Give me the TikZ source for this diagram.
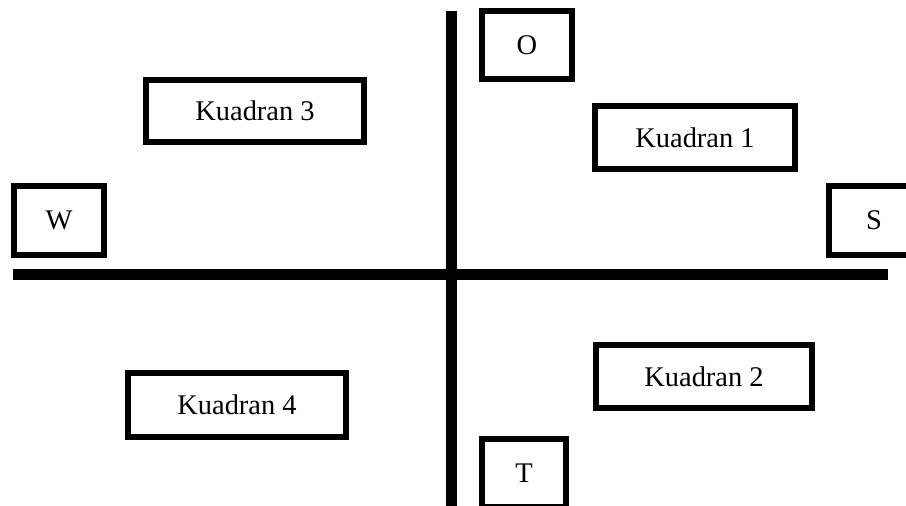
\documentclass[tikz,border=0pt]{standalone}
\usepackage{fontspec}
\setmainfont{Liberation Serif}
\begin{document}
\begin{tikzpicture}[x=0.02cm,y=-0.02cm,font=\fontsize{16.2}{19}\selectfont,
  kotak/.style={draw,line width=0.11cm,fill=white,inner sep=0pt},
  sumbu/.style={line width=0.22cm}]
\useasboundingbox (0,0) rectangle (906,506);
\clip (0,0) rectangle (906,506);
% axes
\coordinate (atas) at (451,11);
\coordinate (bawah) at (451,520);
\coordinate (kiri) at (13,275);
\coordinate (kanan) at (888,275);
\draw[sumbu] (atas)--(bawah);
\draw[sumbu] (kiri)--(kanan);
% direction boxes
\node[kotak,minimum width=1.81cm,minimum height=1.37cm] (o) at (527,45) {O};
\node[kotak,minimum width=1.81cm,minimum height=1.39cm] (w) at (59,220.5) {W};
\node[kotak,minimum width=1.81cm,minimum height=1.39cm] (s) at (874,220.5) {S};
\node[kotak,minimum width=1.69cm,minimum height=1.37cm] (t) at (524,473) {T};
% quadrant boxes
\node[kotak,minimum width=4.01cm,minimum height=1.27cm] (k1) at (695,137.5) {Kuadran 1};
\node[kotak,minimum width=4.33cm,minimum height=1.27cm] (k2) at (704,376.5) {Kuadran 2};
\node[kotak,minimum width=4.37cm,minimum height=1.25cm] (k3) at (255,111) {Kuadran 3};
\node[kotak,minimum width=4.37cm,minimum height=1.29cm] (k4) at (237,405) {Kuadran 4};
\end{tikzpicture}
\end{document}
